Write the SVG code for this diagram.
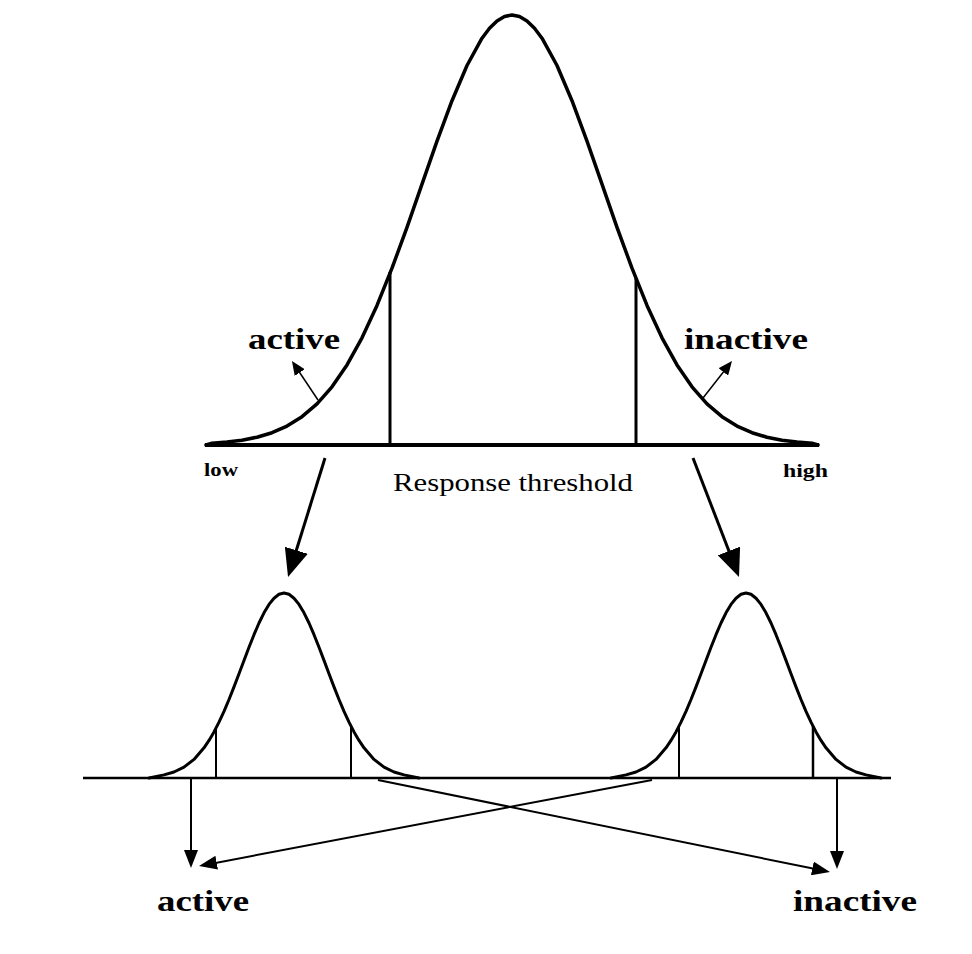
<svg xmlns="http://www.w3.org/2000/svg" width="972" height="954" viewBox="0 0 972 954">
<style>
.crv{fill:none;stroke:#000;stroke-linejoin:round;stroke-linecap:round}
.ln{stroke:#000;fill:none}
.lbl{font-family:"Liberation Serif",serif;font-weight:bold;fill:#000}
.reg{font-family:"Liberation Serif",serif;fill:#000}
</style>
<defs>
<marker id="bigHead" markerUnits="userSpaceOnUse" markerWidth="28" markerHeight="24" refX="18" refY="12" orient="auto"><path d="M0,0 L28,12 L0,24 z" fill="#000"/></marker>
<marker id="smallHead" markerUnits="userSpaceOnUse" markerWidth="14" markerHeight="12" refX="8" refY="6" orient="auto"><path d="M0,0 L14,6 L0,12 z" fill="#000"/></marker>
<marker id="midHead" markerUnits="userSpaceOnUse" markerWidth="18" markerHeight="14" refX="12" refY="7" orient="auto"><path d="M0,0 L18,7 L0,14 z" fill="#000"/></marker>
<polyline id="smallCurve" points="-135,778 -120,774.9 -110,772 -100,767.1 -90,759.4 -80,747.8 -75,740.4 -70,731.9 -65,722.1 -60,711.3 -55,699.5 -50,686.9 -45,673.8 -40,660.4 -35,647.3 -30,634.7 -25,623 -20,612.8 -15,604.4 -10,598.2 -5,594.3 0,593 5,594.3 10,598.2 15,604.4 20,612.8 25,623 30,634.7 35,647.3 40,660.4 45,673.8 50,686.9 55,699.5 60,711.3 65,722.1 70,731.9 75,740.4 80,747.8 90,759.4 100,767.1 110,772 120,774.9 135,778"/>
</defs>
<rect width="972" height="954" fill="#fff"/>

<g id="main-distribution">
<polyline class="crv" stroke-width="3.5" points="206,445 212,443.3 227,442.1 242,440.2 257,437.2 272,432.7 287,426.1 302,416.7 317,403.9 332,386.8 347,364.9 362,337.8 377,305.4 392,268.2 407,227.3 422,184.2 437,141.1 452,100.7 467,65.5 482,38.2 489.5,28.2 497,20.9 504.5,16.5 512,15 519.5,16.5 527,20.9 534.5,28.2 542,38.2 557,65.5 572,100.7 587,141.1 602,184.2 617,227.3 632,268.2 647,305.4 662,337.8 677,364.9 692,386.8 707,403.9 722,416.7 737,426.1 752,432.7 767,437.2 782,440.2 797,442.1 812,443.3 818,445"/>
<line class="ln" x1="205" y1="445" x2="819" y2="445" stroke-width="4"/>
<line class="ln" x1="390" y1="445" x2="390" y2="272" stroke-width="3"/>
<line class="ln" x1="636" y1="445" x2="636" y2="278" stroke-width="3"/>
<text class="lbl" x="248" y="349" font-size="29" textLength="92" lengthAdjust="spacingAndGlyphs">active</text>
<text class="lbl" x="684" y="349" font-size="29" textLength="124" lengthAdjust="spacingAndGlyphs">inactive</text>
<text class="lbl" x="204" y="476" font-size="18" textLength="34" lengthAdjust="spacingAndGlyphs">low</text>
<text class="lbl" x="783" y="477" font-size="18" textLength="45" lengthAdjust="spacingAndGlyphs">high</text>
<text class="reg" x="393" y="491" font-size="26" textLength="240" lengthAdjust="spacingAndGlyphs">Response threshold</text>
</g>

<g id="left-distribution">
<use href="#smallCurve" class="crv" stroke-width="3" transform="translate(284,0)"/>
<line class="ln" x1="216" y1="778" x2="216" y2="727" stroke-width="2"/>
<line class="ln" x1="351" y1="778" x2="351" y2="727" stroke-width="2"/>
</g>

<g id="right-distribution">
<use href="#smallCurve" class="crv" stroke-width="3" transform="translate(746,0)"/>
<line class="ln" x1="679" y1="778" x2="679" y2="727" stroke-width="2"/>
<line class="ln" x1="813" y1="778" x2="813" y2="726" stroke-width="2.5"/>
</g>

<g id="baseline-bottom">
<line class="ln" x1="83" y1="778" x2="891" y2="778" stroke-width="2.5"/>
</g>

<g id="label-active-bottom">
<text class="lbl" x="157" y="911" font-size="29" textLength="92" lengthAdjust="spacingAndGlyphs">active</text>
</g>
<g id="label-inactive-bottom">
<text class="lbl" x="793" y="911" font-size="29" textLength="124" lengthAdjust="spacingAndGlyphs">inactive</text>
</g>

<g id="connectors">
<line class="ln" x1="318" y1="400" x2="295.3" y2="366" stroke-width="1.5" marker-end="url(#smallHead)"/>
<line class="ln" x1="703" y1="398" x2="728.3" y2="365.7" stroke-width="1.5" marker-end="url(#smallHead)"/>
<line class="ln" x1="325" y1="458" x2="291" y2="567.5" stroke-width="3" marker-end="url(#bigHead)"/>
<line class="ln" x1="693" y1="458" x2="735.4" y2="567.7" stroke-width="3" marker-end="url(#bigHead)"/>
<line class="ln" x1="191" y1="778" x2="191" y2="862" stroke-width="2" marker-end="url(#midHead)"/>
<line class="ln" x1="837" y1="779" x2="837" y2="863" stroke-width="2" marker-end="url(#midHead)"/>
<line class="ln" x1="378" y1="780" x2="824.1" y2="870.8" stroke-width="2" marker-end="url(#midHead)"/>
<line class="ln" x1="652" y1="780" x2="204.9" y2="864.9" stroke-width="2" marker-end="url(#midHead)"/>
</g>
</svg>
